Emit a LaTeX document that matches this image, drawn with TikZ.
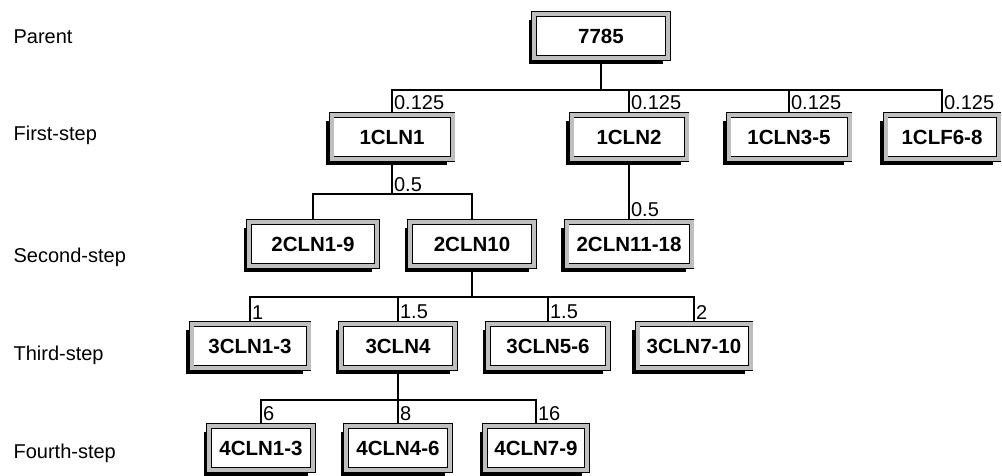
\documentclass[tikz,border=0pt]{standalone}
\usepackage{fontspec}
\setmainfont{Liberation Sans}
\usetikzlibrary{shadows}

\tikzset{
  clone/.style={draw, line width=0.9pt, double=gray!50, double distance=4pt, fill=white,
    minimum width=#1, minimum height=44pt, inner sep=0pt, outer sep=2.9pt,
    font=\fontsize{20.5}{21}\selectfont\bfseries,
    drop shadow={shadow xshift=-5.5pt, shadow yshift=-5.5pt, fill=black, opacity=1}},
  wt/.style={anchor=south west, inner sep=1.5pt, font=\fontsize{20}{20}\selectfont},
  lvl/.style={anchor=west, inner sep=0pt, font=\fontsize{20}{20}\selectfont}
}

\begin{document}
\begin{tikzpicture}[x=1pt,y=-1pt,line width=1.2pt]
        \useasboundingbox (0,0) rectangle (1002,475);
        \node[lvl] (l0) at (13,37) {Parent};
        \node[lvl] (l1) at (13,135) {First-step};
        \node[lvl] (l2) at (13,257) {Second-step};
        \node[lvl] (l3) at (13,355) {Third-step};
        \node[lvl] (l4) at (13,453) {Fourth-step};
        \node[clone=134pt] (p) at (601,36) {7785};
        \node[clone=121pt] (f1) at (392,137) {1CLN1};
        \node[clone=115pt] (f2) at (629,137) {1CLN2};
        \node[clone=121pt] (f3) at (789,137) {1CLN3-5};
        \node[clone=113pt] (f4) at (942,137) {1CLF6-8};
        \node[clone=128pt] (s1) at (313,244) {2CLN1-9};
        \node[clone=124pt] (s2) at (472,244) {2CLN10};
        \node[clone=125pt] (s3) at (629,244) {2CLN11-18};
        \node[clone=117pt] (t1) at (250,346) {3CLN1-3};
        \node[clone=114pt] (t2) at (398,346) {3CLN4};
        \node[clone=120pt] (t3) at (548,346) {3CLN5-6};
        \node[clone=113pt] (t4) at (694,346) {3CLN7-10};
        \node[clone=104pt] (u1) at (261,448) {4CLN1-3};
        \node[clone=104pt] (u2) at (398,448) {4CLN4-6};
        \node[clone=102pt] (u3) at (536,448) {4CLN7-9};
        \coordinate (b0) at (601,90);
        \coordinate (b1) at (392,194);
        \coordinate (b2) at (472,297);
        \coordinate (b3) at (398,400);
        \draw (p.south) -- (b0);
        \draw (b0) -| (f1.north) node[wt] {0.125};
        \draw (b0) -| (f2.north) node[wt] {0.125};
        \draw (b0) -| (f3.north) node[wt] {0.125};
        \draw (b0) -| (f4.north) node[wt] {0.125};
        \draw (f1.south) -- (b1) node[wt] {0.5};
        \draw (b1) -| (s1.north);
        \draw (b1) -| (s2.north);
        \draw (f2.south) -- (s3.north) node[wt] {0.5};
        \draw (s2.south) -- (b2);
        \draw (b2) -| (t1.north) node[wt] {1};
        \draw (b2) -| (t2.north) node[wt] {1.5};
        \draw (b2) -| (t3.north) node[wt] {1.5};
        \draw (b2) -| (t4.north) node[wt] {2};
        \draw (t2.south) -- (b3);
        \draw (b3) -| (u1.north) node[wt] {6};
        \draw (b3) -| (u2.north) node[wt] {8};
        \draw (b3) -| (u3.north) node[wt] {16};
    \end{tikzpicture}
\end{document}
